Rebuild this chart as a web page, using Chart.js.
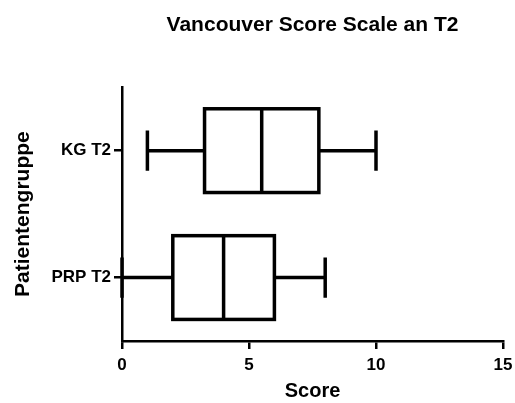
<!DOCTYPE html>
<html>
<head>
<meta charset="utf-8">
<script src="https://cdn.jsdelivr.net/npm/chart.js@4.4.1/dist/chart.umd.min.js"></script>
<style>
  html, body { margin: 0; padding: 0; background: #fff; }
  #wrap { width: 515px; height: 403px; }
</style>
</head>
<body>
<div id="wrap"><canvas id="chart" width="515" height="403"></canvas></div>
<script>
// five-number summaries per group
const groups = ['KG T2', 'PRP T2'];
const minVals = [1, 0];
const q1Vals = [3.25, 2];
const medianVals = [5.5, 4];
const q3Vals = [7.75, 6];
const maxVals = [10, 8];
const xTicks = [0, 5, 10, 15];

const FONT = '"Liberation Sans", Arial, Helvetica, sans-serif';
const LINE = 3.5;

// box outline, whiskers, caps and median, centred on the values
const boxPlotLines = {
    id: 'boxPlotLines',
    afterDatasetsDraw(chart) {
        const c = chart.ctx;
        const xs = chart.scales.x;
        const ys = chart.scales.y;
        const meta = chart.getDatasetMeta(0);
        c.save();
        c.strokeStyle = '#000';
        c.lineWidth = LINE;
        c.lineCap = 'butt';
        c.lineJoin = 'miter';
        groups.forEach((g, i) => {
            const y = ys.getPixelForValue(i);
            const half = meta.data[i].height / 2;
            const cap = half * 0.48;
            const xMin = xs.getPixelForValue(minVals[i]);
            const xQ1 = xs.getPixelForValue(q1Vals[i]);
            const xMed = xs.getPixelForValue(medianVals[i]);
            const xQ3 = xs.getPixelForValue(q3Vals[i]);
            const xMax = xs.getPixelForValue(maxVals[i]);
            c.strokeRect(xQ1, y - half, xQ3 - xQ1, half * 2);
            c.beginPath();
            c.moveTo(xMin, y); c.lineTo(xQ1, y);
            c.moveTo(xQ3, y); c.lineTo(xMax, y);
            c.moveTo(xMin, y - cap); c.lineTo(xMin, y + cap);
            c.moveTo(xMax, y - cap); c.lineTo(xMax, y + cap);
            c.moveTo(xMed, y - half); c.lineTo(xMed, y + half);
            c.stroke();
        });
        c.restore();
    }
};

const ctx = document.getElementById('chart').getContext('2d');

new Chart(ctx, {
    type: 'bar',
    plugins: [boxPlotLines],
    data: {
        labels: groups,
        datasets: [{
            data: groups.map((g, i) => [q1Vals[i], q3Vals[i]]),
            backgroundColor: '#fff',
            borderWidth: 0,
            categoryPercentage: 1,
            barPercentage: 0.66,
        }],
    },
    options: {
        indexAxis: 'y',
        responsive: false,
        animation: false,
        layout: { padding: { left: 11, right: 12, top: 0, bottom: 0 } },
        plugins: {
            legend: { display: false },
            tooltip: { enabled: false },
            title: {
                display: true,
                fullSize: false,
                text: 'Vancouver Score Scale an T2',
                color: '#000',
                font: { family: FONT, size: 21, weight: 'bold' },
                padding: { top: 13, bottom: 49 },
            },
        },
        scales: {
            x: {
                min: 0,
                max: 15,
                afterBuildTicks(scale) {
                    scale.ticks = xTicks.map(v => ({ value: v }));
                },
                afterFit(scale) {
                    scale.height = 62;
                    scale.paddingLeft = 0;
                    scale.paddingRight = 0;
                },
                border: { color: '#000', width: 2.5 },
                grid: {
                    drawOnChartArea: false,
                    drawTicks: true,
                    tickLength: 8,
                    color: '#000',
                    lineWidth: 2.5,
                },
                ticks: {
                    color: '#000',
                    padding: 6,
                    font: { family: FONT, size: 17, weight: 'bold' },
                },
                title: {
                    display: true,
                    text: 'Score',
                    color: '#000',
                    padding: { top: 4, bottom: 0 },
                    font: { family: FONT, size: 20, weight: 'bold' },
                },
            },
            y: {
                afterFit(scale) { scale.width = 111; },
                border: { color: '#000', width: 2.5 },
                grid: {
                    offset: false,
                    drawOnChartArea: false,
                    drawTicks: true,
                    tickLength: 8,
                    color: '#000',
                    lineWidth: 2.5,
                },
                ticks: {
                    color: '#000',
                    padding: 3,
                    font: { family: FONT, size: 17, weight: 'bold' },
                },
                title: {
                    display: true,
                    text: 'Patientengruppe',
                    color: '#000',
                    padding: { top: 0, bottom: 4 },
                    font: { family: FONT, size: 21, weight: 'bold' },
                },
            },
        },
    },
});
</script>
</body>
</html>
